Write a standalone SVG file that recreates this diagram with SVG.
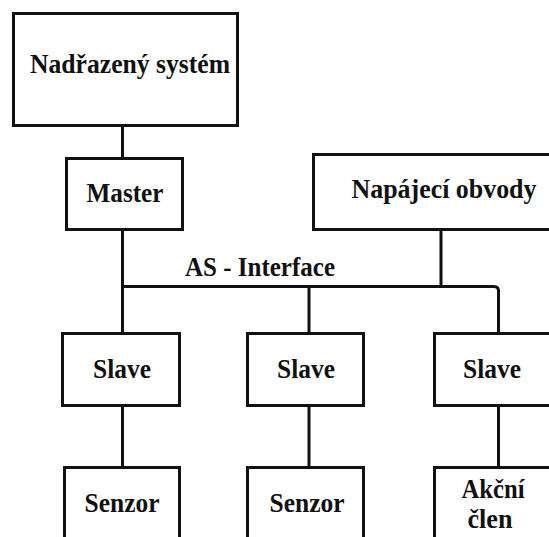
<svg xmlns="http://www.w3.org/2000/svg" width="549" height="537" viewBox="0 0 549 537">
<style>
.box{fill:#fff;stroke:#111;stroke-width:3}
.t{font-weight:bold;font-size:27px;fill:#111;text-anchor:middle}
.c{fill:none;stroke:#111;stroke-width:3}
</style>
<rect width="549" height="537" fill="#fff"/>
<g font-family="Liberation Serif, DejaVu Serif, serif">
<g id="connectors">
<line class="c" x1="122.5" y1="126" x2="122.5" y2="158"/>
<line class="c" x1="122.5" y1="230" x2="122.5" y2="333"/>
<path class="c" d="M122.5 286.5 H494 Q498.5 286.5 498.5 291 V333"/>
<line class="c" x1="441" y1="230" x2="441" y2="286.5"/>
<line class="c" x1="309" y1="286.5" x2="309" y2="333"/>
<line class="c" x1="122.5" y1="406" x2="122.5" y2="467"/>
<line class="c" x1="309" y1="406" x2="309" y2="467"/>
<line class="c" x1="498.5" y1="406" x2="498.5" y2="467"/>
<text class="t" x="185" y="276" style="text-anchor:start" textLength="150" lengthAdjust="spacingAndGlyphs">AS - Interface</text>
</g>
<g id="nadrazeny"><rect class="box" x="13.5" y="13.5" width="224" height="112"/><text class="t" x="130" y="73" textLength="200" lengthAdjust="spacingAndGlyphs">Nadřazený systém</text></g>
<g id="master"><rect class="box" x="66.5" y="158.5" width="116" height="71"/><text class="t" x="125" y="202" textLength="77" lengthAdjust="spacingAndGlyphs">Master</text></g>
<g id="napajeci"><rect class="box" x="313.5" y="154.5" width="250" height="75"/><text class="t" x="444" y="198" textLength="185" lengthAdjust="spacingAndGlyphs">Napájecí obvody</text></g>
<g id="slave1"><rect class="box" x="62.5" y="333.5" width="117" height="72"/><text class="t" x="122" y="378" textLength="58" lengthAdjust="spacingAndGlyphs">Slave</text></g>
<g id="slave2"><rect class="box" x="247.5" y="333.5" width="116" height="72"/><text class="t" x="306" y="378" textLength="58" lengthAdjust="spacingAndGlyphs">Slave</text></g>
<g id="slave3"><rect class="box" x="434.5" y="333.5" width="130" height="72"/><text class="t" x="492" y="378" textLength="58" lengthAdjust="spacingAndGlyphs">Slave</text></g>
<g id="senzor1"><rect class="box" x="64.5" y="467.5" width="115" height="80"/><text class="t" x="122" y="512" textLength="75" lengthAdjust="spacingAndGlyphs">Senzor</text></g>
<g id="senzor2"><rect class="box" x="247.5" y="467.5" width="116" height="80"/><text class="t" x="307" y="512" textLength="75" lengthAdjust="spacingAndGlyphs">Senzor</text></g>
<g id="akcni"><rect class="box" x="434.5" y="467.5" width="130" height="80"/><text class="t" x="493" y="498" textLength="63" lengthAdjust="spacingAndGlyphs">Akční</text><text class="t" x="490" y="528" textLength="45" lengthAdjust="spacingAndGlyphs">člen</text></g>
</g>
</svg>
